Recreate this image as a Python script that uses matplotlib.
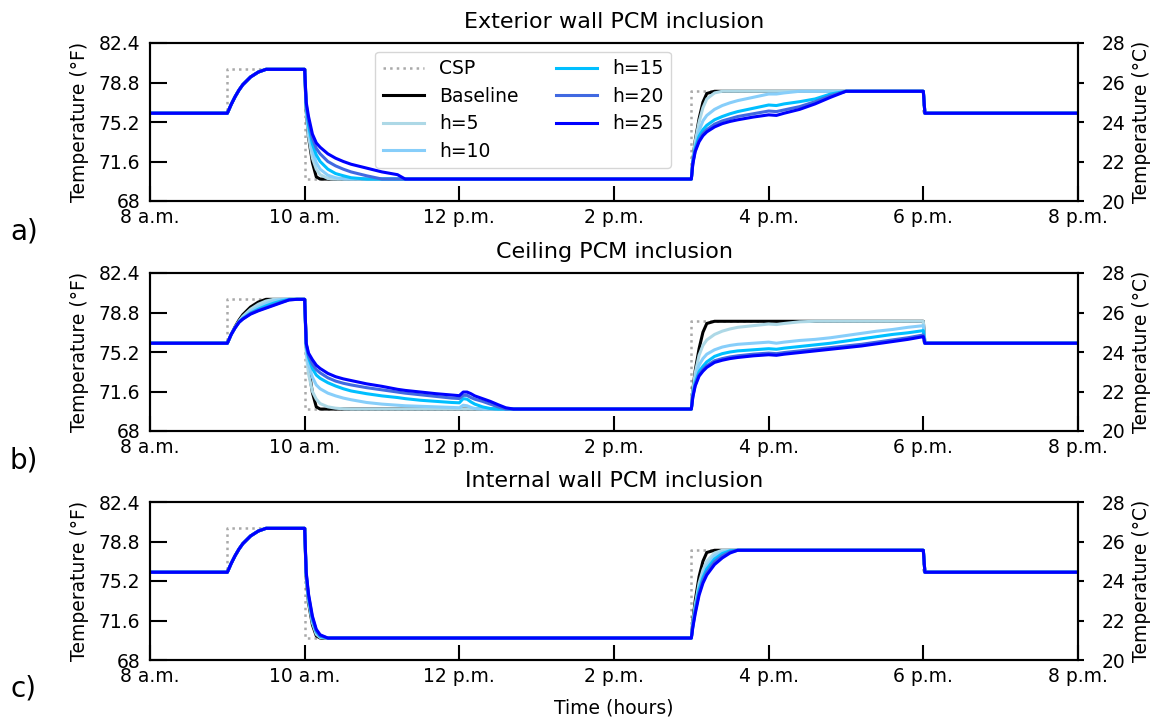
import matplotlib
matplotlib.use("Agg")
import matplotlib.pyplot as plt

# ---------------- data (temperatures in °F, time in hours) ----------------
TITLES = ["Exterior wall PCM inclusion", "Ceiling PCM inclusion", "Internal wall PCM inclusion"]
PANEL_TAGS = ["a)", "b)", "c)"]
SERIES = ["Baseline", "h=5", "h=10", "h=15", "h=20", "h=25"]
XTICKS = [8, 10, 12, 14, 16, 18, 20]
XTICK_LABELS = ["8 a.m.", "10 a.m.", "12 p.m.", "2 p.m.", "4 p.m.", "6 p.m.", "8 p.m."]
YTICKS_F = [68, 71.6, 75.2, 78.8, 82.4]
YTICK_LABELS_F = ["68", "71.6", "75.2", "78.8", "82.4"]
YTICKS_C = [20, 22, 24, 26, 28]

# cooling set point schedule
CSP_T = [8, 9, 10, 15, 18, 20]
CSP_F = [76, 80, 70, 78, 76, 76]

START_T, START_F = 8.0, 76.0
END_T = [18.02, 20.0]
END_F = [76.0, 76.0]

T_AM = [9.0, 9.05, 9.1, 9.15, 9.2, 9.3, 9.4, 9.5, 9.6, 9.7, 9.8, 9.9, 10.0]
T_DROP = [10.0, 10.02, 10.05, 10.1, 10.15, 10.2, 10.3, 10.4, 10.5, 10.6, 10.8, 11.0, 11.2, 11.3,
          11.5, 11.7, 11.9, 12.0, 12.05, 12.1, 12.15, 12.2, 12.3, 12.4, 12.5, 12.6, 12.7]
T_PM = [15.0, 15.02, 15.05, 15.1, 15.15, 15.2, 15.3, 15.4, 15.5, 15.6, 15.8, 16.0, 16.1, 16.2,
        16.4, 16.6, 16.8, 17.0, 17.2, 17.4, 17.6, 17.8, 18.0]

# morning pre-cool ramp (same for exterior and internal wall cases)
am_common = [76.0, 76.8, 77.5, 78.1, 78.6, 79.3, 79.75, 80.0, 80.0, 80.0, 80.0, 80.0, 80.0]

# ---- a) exterior wall ----
ext_drop_base = [80, 76.2, 73.8, 71.5, 70.2, 70, 70, 70, 70, 70, 70, 70, 70, 70, 70, 70, 70, 70, 70, 70, 70, 70, 70, 70, 70, 70, 70]
ext_drop_h5 = [80, 76.2, 73.9, 71.9, 70.9, 70.4, 70.05, 70, 70, 70, 70, 70, 70, 70, 70, 70, 70, 70, 70, 70, 70, 70, 70, 70, 70, 70, 70]
ext_drop_h10 = [80, 76.4, 74.4, 72.6, 71.5, 70.9, 70.35, 70.12, 70.02, 70, 70, 70, 70, 70, 70, 70, 70, 70, 70, 70, 70, 70, 70, 70, 70, 70, 70]
ext_drop_h15 = [80, 76.6, 74.9, 73.2, 72.2, 71.6, 70.9, 70.5, 70.3, 70.12, 70, 70, 70, 70, 70, 70, 70, 70, 70, 70, 70, 70, 70, 70, 70, 70, 70]
ext_drop_h20 = [80, 76.8, 75.3, 73.7, 72.8, 72.3, 71.6, 71.2, 70.9, 70.65, 70.3, 70.0, 70, 70, 70, 70, 70, 70, 70, 70, 70, 70, 70, 70, 70, 70, 70]
ext_drop_h25 = [80, 77.0, 75.7, 74.1, 73.3, 72.9, 72.3, 71.9, 71.6, 71.35, 71.0, 70.65, 70.4, 70.0, 70, 70, 70, 70, 70, 70, 70, 70, 70, 70, 70, 70, 70]

ext_pm_base = [70, 71.8, 73.5, 75.5, 77.0, 77.8, 78, 78, 78, 78, 78, 78, 78, 78, 78, 78, 78, 78, 78, 78, 78, 78, 78]
ext_pm_h5 = [70, 71.8, 73.4, 75.2, 76.5, 77.3, 77.85, 78, 78, 78, 78, 78, 78, 78, 78, 78, 78, 78, 78, 78, 78, 78, 78]
ext_pm_h10 = [70, 71.7, 73.0, 74.4, 75.3, 75.8, 76.35, 76.7, 76.95, 77.15, 77.45, 77.75, 77.75, 77.85, 78, 78, 78, 78, 78, 78, 78, 78, 78]
ext_pm_h15 = [70, 71.6, 72.8, 73.9, 74.5, 74.9, 75.4, 75.7, 75.95, 76.15, 76.45, 76.75, 76.7, 76.85, 77.05, 77.3, 77.75, 78, 78, 78, 78, 78, 78]
ext_pm_h20 = [70, 71.5, 72.6, 73.6, 74.15, 74.5, 75.0, 75.3, 75.5, 75.7, 75.95, 76.2, 76.15, 76.3, 76.6, 77.05, 77.6, 78, 78, 78, 78, 78, 78]
ext_pm_h25 = [70, 71.4, 72.5, 73.4, 73.95, 74.3, 74.75, 75.05, 75.25, 75.4, 75.65, 75.85, 75.8, 76.0, 76.35, 76.85, 77.45, 78, 78, 78, 78, 78, 78]

# ---- b) ceiling ----
ceil_am_base = [76.0, 76.8, 77.5, 78.1, 78.6, 79.3, 79.75, 80.0, 80.0, 80.0, 80.0, 80.0, 80.0]
ceil_am_h5 = [76.0, 76.8, 77.45, 78.0, 78.45, 79.1, 79.55, 79.85, 80.0, 80.0, 80.0, 80.0, 80.0]
ceil_am_h10 = [76.0, 76.8, 77.4, 77.95, 78.35, 78.9, 79.3, 79.6, 79.85, 80.0, 80.0, 80.0, 80.0]
ceil_am_h15 = [76.0, 76.8, 77.4, 77.9, 78.25, 78.75, 79.1, 79.4, 79.65, 79.85, 80.0, 80.0, 80.0]
ceil_am_h20 = [76.0, 76.8, 77.4, 77.9, 78.2, 78.7, 79.0, 79.25, 79.5, 79.75, 79.95, 80.0, 80.0]
ceil_am_h25 = [76.0, 76.8, 77.4, 77.9, 78.2, 78.65, 78.95, 79.2, 79.45, 79.7, 79.95, 80.0, 80.0]

ceil_drop_base = [80, 76.0, 73.8, 71.5, 70.2, 70, 70, 70, 70, 70, 70, 70, 70, 70, 70, 70, 70, 70, 70, 70, 70, 70, 70, 70, 70, 70, 70]
ceil_drop_h5 = [80, 75.0, 73.2, 71.6, 70.9, 70.5, 70.2, 70.08, 70.02, 70, 70, 70, 70, 70, 70, 70, 70, 70, 70, 70, 70, 70, 70, 70, 70, 70, 70]
ceil_drop_h10 = [80, 75.5, 74.1, 72.9, 72.2, 71.85, 71.45, 71.2, 71.0, 70.85, 70.6, 70.45, 70.35, 70.3, 70.25, 70.2, 70.15, 70.12, 70.35, 70.3, 70.15, 70.05, 70, 70, 70, 70, 70]
ceil_drop_h15 = [80, 75.8, 74.7, 73.7, 73.1, 72.8, 72.4, 72.1, 71.85, 71.65, 71.4, 71.2, 71.05, 70.95, 70.8, 70.7, 70.6, 70.57, 70.95, 70.9, 70.65, 70.45, 70.2, 70.05, 70, 70, 70]
ceil_drop_h20 = [80, 75.9, 74.9, 74.1, 73.6, 73.3, 72.85, 72.55, 72.35, 72.2, 71.95, 71.75, 71.55, 71.45, 71.3, 71.15, 71.0, 70.96, 71.25, 71.25, 71.05, 70.9, 70.7, 70.45, 70.2, 70.0, 70]
ceil_drop_h25 = [80, 76.0, 75.1, 74.5, 74.0, 73.7, 73.25, 72.95, 72.75, 72.6, 72.3, 72.07, 71.8, 71.7, 71.55, 71.4, 71.28, 71.22, 71.55, 71.55, 71.4, 71.2, 70.95, 70.7, 70.4, 70.12, 70.0]

ceil_pm_base = [70, 71.8, 73.5, 75.5, 77.0, 77.8, 78, 78, 78, 78, 78, 78, 78, 78, 78, 78, 78, 78, 78, 78, 78, 78, 78]
ceil_pm_h5 = [70, 71.7, 73.3, 74.9, 75.8, 76.3, 76.8, 77.1, 77.3, 77.45, 77.6, 77.75, 77.7, 77.8, 77.95, 78, 78, 78, 78, 78, 78, 78, 78]
ceil_pm_h10 = [70, 71.5, 72.8, 74.0, 74.6, 75.0, 75.4, 75.65, 75.8, 75.9, 76.0, 76.1, 76.0, 76.1, 76.25, 76.35, 76.5, 76.7, 76.9, 77.1, 77.25, 77.45, 77.6]
ceil_pm_h15 = [70, 71.3, 72.4, 73.4, 73.9, 74.3, 74.8, 75.05, 75.2, 75.3, 75.4, 75.5, 75.45, 75.55, 75.7, 75.85, 76.0, 76.2, 76.4, 76.6, 76.8, 76.95, 77.15]
ceil_pm_h20 = [70, 71.2, 72.2, 73.15, 73.6, 73.95, 74.4, 74.6, 74.75, 74.85, 75.0, 75.1, 75.05, 75.15, 75.3, 75.45, 75.6, 75.75, 75.9, 76.1, 76.3, 76.5, 76.75]
ceil_pm_h25 = [70, 71.1, 72.1, 73.0, 73.45, 73.8, 74.25, 74.45, 74.6, 74.7, 74.85, 74.95, 74.9, 75.0, 75.15, 75.3, 75.45, 75.6, 75.75, 75.95, 76.15, 76.35, 76.6]

# ---- c) internal wall ----
int_drop_base = [80, 75.5, 73.2, 71.2, 70.2, 70, 70, 70, 70, 70, 70, 70, 70, 70, 70, 70, 70, 70, 70, 70, 70, 70, 70, 70, 70, 70, 70]
int_drop_h5 = [80, 75.6, 73.4, 71.4, 70.35, 70.05, 70, 70, 70, 70, 70, 70, 70, 70, 70, 70, 70, 70, 70, 70, 70, 70, 70, 70, 70, 70, 70]
int_drop_h10 = [80, 75.7, 73.55, 71.55, 70.5, 70.1, 70, 70, 70, 70, 70, 70, 70, 70, 70, 70, 70, 70, 70, 70, 70, 70, 70, 70, 70, 70, 70]
int_drop_h15 = [80, 75.8, 73.7, 71.7, 70.6, 70.15, 70, 70, 70, 70, 70, 70, 70, 70, 70, 70, 70, 70, 70, 70, 70, 70, 70, 70, 70, 70, 70]
int_drop_h20 = [80, 75.9, 73.85, 71.85, 70.7, 70.22, 70, 70, 70, 70, 70, 70, 70, 70, 70, 70, 70, 70, 70, 70, 70, 70, 70, 70, 70, 70, 70]
int_drop_h25 = [80, 76.0, 74.0, 72.0, 70.8, 70.3, 70, 70, 70, 70, 70, 70, 70, 70, 70, 70, 70, 70, 70, 70, 70, 70, 70, 70, 70, 70, 70]

int_pm_base = [70, 71.6, 73.4, 75.6, 77.0, 77.8, 78, 78, 78, 78, 78, 78, 78, 78, 78, 78, 78, 78, 78, 78, 78, 78, 78]
int_pm_h5 = [70, 71.4, 73.0, 75.0, 76.2, 77.0, 77.75, 78, 78, 78, 78, 78, 78, 78, 78, 78, 78, 78, 78, 78, 78, 78, 78]
int_pm_h10 = [70, 71.3, 72.8, 74.7, 75.8, 76.6, 77.5, 77.85, 78, 78, 78, 78, 78, 78, 78, 78, 78, 78, 78, 78, 78, 78, 78]
int_pm_h15 = [70, 71.2, 72.6, 74.4, 75.5, 76.3, 77.2, 77.7, 77.95, 78, 78, 78, 78, 78, 78, 78, 78, 78, 78, 78, 78, 78, 78]
int_pm_h20 = [70, 71.1, 72.4, 74.1, 75.25, 76.0, 76.95, 77.5, 77.85, 78, 78, 78, 78, 78, 78, 78, 78, 78, 78, 78, 78, 78, 78]
int_pm_h25 = [70, 71.0, 72.2, 73.9, 75.0, 75.75, 76.7, 77.3, 77.75, 78, 78, 78, 78, 78, 78, 78, 78, 78, 78, 78, 78, 78, 78]

PANELS = [
    ([am_common] * 6,
     [ext_drop_base, ext_drop_h5, ext_drop_h10, ext_drop_h15, ext_drop_h20, ext_drop_h25],
     [ext_pm_base, ext_pm_h5, ext_pm_h10, ext_pm_h15, ext_pm_h20, ext_pm_h25]),
    ([ceil_am_base, ceil_am_h5, ceil_am_h10, ceil_am_h15, ceil_am_h20, ceil_am_h25],
     [ceil_drop_base, ceil_drop_h5, ceil_drop_h10, ceil_drop_h15, ceil_drop_h20, ceil_drop_h25],
     [ceil_pm_base, ceil_pm_h5, ceil_pm_h10, ceil_pm_h15, ceil_pm_h20, ceil_pm_h25]),
    ([am_common] * 6,
     [int_drop_base, int_drop_h5, int_drop_h10, int_drop_h15, int_drop_h20, int_drop_h25],
     [int_pm_base, int_pm_h5, int_pm_h10, int_pm_h15, int_pm_h20, int_pm_h25]),
]

# ---------------- styling ----------------
COLORS = ["black", "lightblue", "lightskyblue", "deepskyblue", "royalblue", "blue"]
FULL_T = [START_T] + T_AM + T_DROP[1:] + T_PM + END_T
FS = 13.5

plt.rcParams["font.family"] = ["DejaVu Sans"]
fig = plt.figure(figsize=(11.54, 7.19), dpi=100)

W, H = 1154.0, 719.0
left = 150 / W
width = 928 / W
tops_px = [43, 273, 502]
h_px = 158

for i, (ams, drops, pms) in enumerate(PANELS):
    top = tops_px[i]
    ax = fig.add_axes([left, 1 - (top + h_px) / H, width, h_px / H])
    ax.plot(CSP_T, CSP_F, drawstyle="steps-post", linestyle=":", color="#a9a9a9",
            lw=1.8, label="CSP")
    for name, col, am, dr, pm in zip(SERIES, COLORS, ams, drops, pms):
        vals = [START_F] + am + dr[1:] + pm + END_F
        ax.plot(FULL_T, vals, color=col, lw=2.2, label=name)
    ax.set_xlim(8, 20)
    ax.set_ylim(68, 82.4)
    ax.set_xticks(XTICKS)
    ax.set_xticklabels(XTICK_LABELS)
    ax.set_yticks(YTICKS_F)
    ax.set_yticklabels(YTICK_LABELS_F)
    ax.tick_params(axis="x", direction="in", length=11, width=1.5, labelsize=FS, pad=5)
    ax.tick_params(axis="y", direction="in", length=12, width=1.5, labelsize=FS, pad=7)
    ax.set_ylabel("Temperature (°F)", fontsize=FS, labelpad=7)
    ax.set_title(TITLES[i], fontsize=16, pad=11)
    for sp in ax.spines.values():
        sp.set_linewidth(1.5)

    tw = ax.twinx()
    tw.set_ylim(20, 28)
    tw.set_yticks(YTICKS_C)
    tw.tick_params(axis="y", direction="out", length=4, width=1.5, labelsize=FS, pad=13)
    tw.set_ylabel("Temperature (°C)", fontsize=FS, labelpad=5)
    for sp in tw.spines.values():
        sp.set_linewidth(1.5)

    if i == 0:
        ax.legend(ncol=2, loc="upper left", bbox_to_anchor=(0.2425, 0.945), borderaxespad=0,
                  fontsize=FS, handlelength=2.2, labelspacing=0.45, columnspacing=2.0,
                  handletextpad=0.8, fancybox=True, framealpha=0.8, edgecolor="#cccccc")
    if i == 2:
        ax.set_xlabel("Time (hours)", fontsize=FS, labelpad=9)

tag_y = [232, 460, 688]
for tag, yy in zip(PANEL_TAGS, tag_y):
    fig.text(10 / W, 1 - yy / H, tag, fontsize=20, ha="left", va="center")

fig.savefig("out.png", dpi=100)
